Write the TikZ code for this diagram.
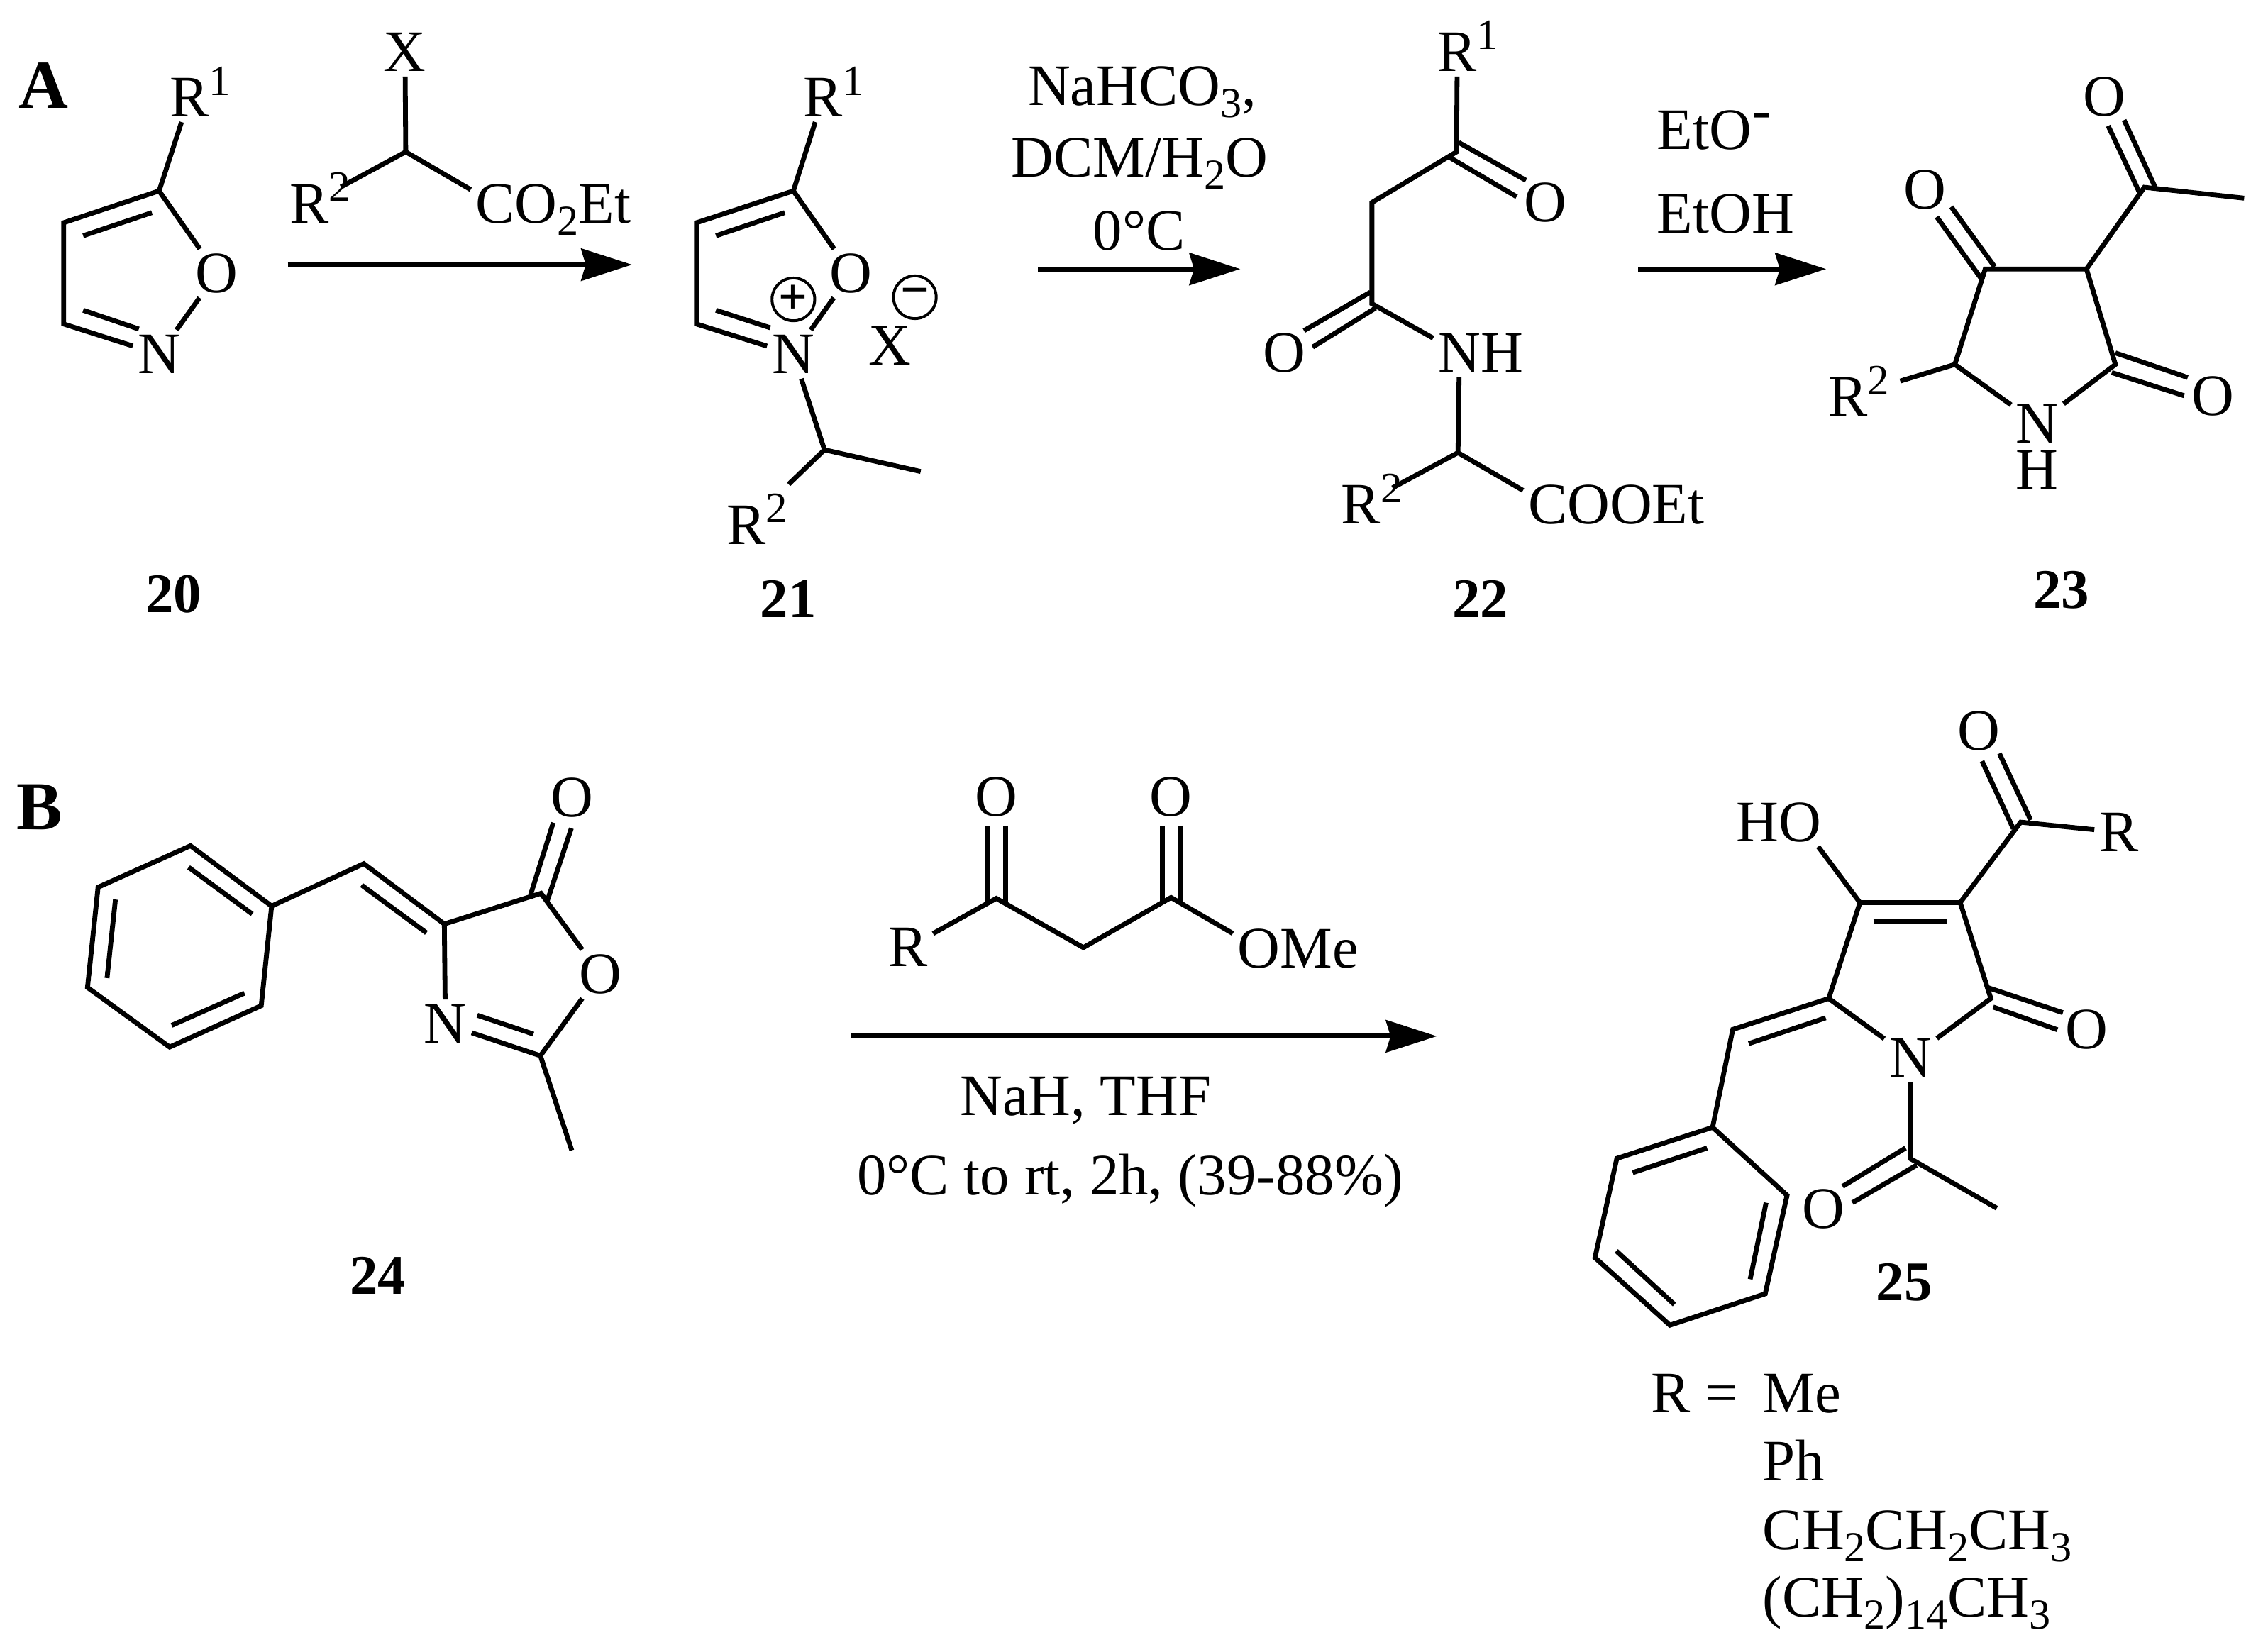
\documentclass[tikz,border=0pt]{standalone}
\usepackage{fontspec}
\setmainfont{Liberation Serif}
\usetikzlibrary{arrows.meta}
\newcommand{\lowr}[1]{\raisebox{-2.4pt}{\fontsize{8.4}{9}\selectfont #1}}
\newcommand{\supr}[1]{\rlap{\smash{\raisebox{4.3pt}{\fontsize{8.5}{9}\selectfont #1}}}}
\newcommand{\tailr}[1]{\rlap{\smash{#1}}}
\tikzset{
    bond/.style={line width=0.95pt, line join=miter},
    rxn/.style={line width=1pt, -{Stealth[length=10pt,width=6.3pt,inset=0.9pt]}},
    atom/.style={inner sep=0.8pt, text height=7.6pt, text depth=0pt, font=\fontsize{11.55}{14}\selectfont},
    txt/.style={anchor=base west, inner sep=0pt, font=\fontsize{11.55}{14}\selectfont},
    nr/.style={inner sep=0pt, font=\fontsize{11}{14}\bfseries\selectfont},
    panel/.style={inner sep=0pt, font=\fontsize{13.5}{16}\bfseries\selectfont},
    charge/.style={circle, draw, line width=0.55pt, inner sep=0pt, minimum size=8.4pt, font=\fontsize{10}{10}\bfseries\selectfont}
}
\begin{document}
\begin{tikzpicture}[x=0.01cm,y=-0.01cm]
    \useasboundingbox (0,0) rectangle (1568,1142);
    \node[panel] (panelA) at (30,59) {A};
    \node[panel] (panelB) at (27.5,558) {B};

    %Forbindelse 20
        \coordinate (c5a) at (110,132);
        \coordinate (c4a) at (44,154);
        \coordinate (c3a) at (44,224);
        \node[atom] (n20) at (110,245) {N};
        \node[atom] (o20) at (150,189) {O};
        \node[atom] (r20) at (131,67.5) {R\supr{1}};
        \draw[bond] (n20)--(c3a)--(c4a)--(c5a)--(o20)--(n20);
        \draw[bond] (c5a)--(r20);
        \draw[bond] (57.5,163)--(105,147);
        \draw[bond] (57.5,214.5)--(96,227.5);
        \node[nr] (nr20) at (120,411) {20};

    %Reagens
        \coordinate (cx) at (280.5,105);
        \node[atom] (xr) at (280,36) {X};
        \node[atom] (r2r) at (214,141) {R\supr{2}};
        \node[atom] (ester) at (342.5,141) {C\tailr{O\lowr{2}Et}};
        \draw[bond] (xr)--(cx);
        \draw[bond,shorten <=1.5pt] (r2r)--(cx);
        \draw[bond] (cx)--(ester);

    %Pil 1
        \coordinate (a1s) at (199,183);
        \coordinate (a1e) at (437,183);
        \draw[rxn] (a1s)--(a1e);

    %Forbindelse 21
        \coordinate (c5b) at (548.5,132);
        \coordinate (c4b) at (481.5,154);
        \coordinate (c3b) at (481.5,224);
        \coordinate (chb) at (570,311);
        \coordinate (meb) at (636.5,326);
        \node[atom] (n21) at (548.5,245) {N};
        \node[atom] (o21) at (588.5,189) {O};
        \node[atom] (r21) at (569,67.5) {R\supr{1}};
        \node[atom] (r221) at (516,363) {R\supr{2}};
        \node[atom] (x21) at (615,239) {X};
        \node[charge] (plus) at (548.5,207) {+};
        \node[charge] (minus) at (632.5,205.5) {−};
        \draw[bond] (n21)--(c3b)--(c4b)--(c5b)--(o21)--(n21);
        \draw[bond] (c5b)--(r21);
        \draw[bond] (n21)--(chb)--(meb);
        \draw[bond,shorten >=4.8pt] (chb)--(r221);
        \draw[bond] (495,163)--(542.5,147);
        \draw[bond] (495,214.5)--(532.5,226.6);
        \node[nr] (nr21) at (545,414) {21};

    %Pil 2
        \coordinate (a2s) at (717.5,186);
        \coordinate (a2e) at (857.5,186);
        \draw[rxn] (a2s)--(a2e);
        \node[txt] (nahco) at (710,72.6) {NaHCO\lowr{3},};
        \node[txt] (dcm) at (698.5,122.5) {DCM/H\lowr{2}O};
        \node[txt] (temp) at (755,173) {0°C};

    %Forbindelse 22
        \coordinate (c1c) at (1007,105);
        \coordinate (c2c) at (948.5,140);
        \coordinate (c3c) at (948.5,210);
        \coordinate (c4c) at (1008,313);
        \node[atom] (r22) at (1007.5,36) {R\supr{1}};
        \node[atom] (o22a) at (1068.5,140) {O};
        \node[atom] (o22b) at (888,244) {O};
        \node[atom] (nh22) at (1009,244) {N\tailr{H}};
        \node[atom] (r222) at (941,349) {R\supr{2}};
        \node[atom] (coo22) at (1070,349) {C\tailr{OOEt}};
        \draw[bond] (r22)--(c1c)--(c2c)--(c3c)--(nh22)--(c4c)--(coo22);
        \draw[bond,shorten >=1.5pt] (c4c)--(r222);
        \draw[bond] (1008.5,98.5)--(1055,124.7);
        \draw[bond] (1002.5,109)--(1048.5,136);
        \draw[bond] (947.5,202)--(901.5,228.6);
        \draw[bond] (951,213)--(907.5,240);
        \node[nr] (nr22) at (1023.5,414) {22};

    %Pil 3
        \coordinate (a3s) at (1132.5,186);
        \coordinate (a3e) at (1262.5,186);
        \draw[rxn] (a3s)--(a3e);
        \node[txt] (eto) at (1145,103) {EtO\raisebox{3.8pt}{-}};
        \node[txt] (etoh) at (1145,161) {EtOH};

    %Forbindelse 23
        \coordinate (c3d) at (1372.5,186);
        \coordinate (c4d) at (1442.5,186);
        \coordinate (c2d) at (1462.5,252);
        \coordinate (c5d) at (1351.5,252);
        \coordinate (acd) at (1482.5,129.5);
        \coordinate (med) at (1551.5,137);
        \node[atom] (nh23) at (1408.5,293) {N};
        \node[atom,inner sep=0pt] (h23) at (1408.5,325) {H};
        \node[atom] (o23a) at (1331,131) {O};
        \node[atom] (o23b) at (1455,67) {O};
        \node[atom] (o23c) at (1530,273.6) {O};
        \node[atom] (r223) at (1277.5,274.5) {R\supr{2}};
        \draw[bond] (nh23)--(c5d)--(c3d)--(c4d)--(c2d)--(nh23);
        \draw[bond,shorten >=5.7pt] (c5d)--(r223);
        \draw[bond] (c4d)--(acd)--(med);
        \draw[bond] (1349,143)--(1379,184.4);
        \draw[bond] (1339,150)--(1370,193);
        \draw[bond] (1468.5,83)--(1490,129.5);
        \draw[bond] (1457.5,87)--(1480,135);
        \draw[bond] (1462.5,244)--(1512.5,261);
        \draw[bond] (1460,257.6)--(1510,273.6);
        \node[nr] (nr23) at (1425,408) {23};

    %Forbindelse 24
        \coordinate (pa) at (131.7,584.8);
        \coordinate (pb) at (67.8,613.5);
        \coordinate (pc) at (60.5,682.8);
        \coordinate (pd) at (117.3,724);
        \coordinate (pe) at (180.6,695.4);
        \coordinate (pf) at (187.8,626.5);
        \coordinate (cg) at (251.5,597.2);
        \coordinate (ch) at (307.2,638.9);
        \coordinate (ck) at (374,617.7);
        \coordinate (cm) at (373.6,730);
        \coordinate (me24) at (395.3,795.4);
        \node[atom] (o24a) at (395.3,551.3) {O};
        \node[atom] (o24b) at (414.9,673.5) {O};
        \node[atom] (n24) at (307.9,708) {N};
        \draw[bond] (pa)--(pb)--(pc)--(pd)--(pe)--(pf)--cycle;
        \draw[bond] (pf)--(cg)--(ch)--(ck)--(o24b)--(cm)--(me24);
        \draw[bond] (ch)--(n24);
        \draw[bond] (n24)--(cm);
        \draw[bond] (130.4,599.7)--(174.4,632);
        \draw[bond] (79.8,622)--(74,676.3);
        \draw[bond] (118.7,709)--(169,686.7);
        \draw[bond] (250,612)--(294.8,645);
        \draw[bond] (382.5,568.8)--(366.7,619.1);
        \draw[bond] (395,572.7)--(378.4,622.8);
        \draw[bond] (330,702)--(368.8,715);
        \node[nr] (nr24) at (261.4,882) {24};

    %Reagens og pil 4
        \coordinate (ke) at (688.8,621.2);
        \coordinate (ch2) at (749,655.2);
        \coordinate (es) at (809.6,620.6);
        \node[atom] (o4a) at (688.8,551) {O};
        \node[atom] (o4b) at (809.6,551) {O};
        \node[atom] (rket) at (628,655) {R};
        \node[atom] (ome) at (870.5,656) {O\tailr{Me}};
        \draw[bond] (rket)--(ke)--(ch2)--(es)--(ome);
        \draw[bond] (682.8,570.8)--(682.8,624.5);
        \draw[bond] (695.2,570.8)--(695.2,624.5);
        \draw[bond] (803.5,570.8)--(803.5,624.5);
        \draw[bond] (815.7,570.8)--(815.7,624.5);
        \coordinate (a4s) at (588.5,716.5);
        \coordinate (a4e) at (993.4,716.5);
        \draw[rxn] (a4s)--(a4e);
        \node[txt] (nah) at (663,771) {NaH, THF};
        \node[txt] (cond) at (592,826) {0°C to rt, 2h, (39-88\%)};

    %Forbindelse 25
        \coordinate (c4e) at (1285.9,624.1);
        \coordinate (c3e) at (1355.2,624.1);
        \coordinate (c2e) at (1376.4,690.4);
        \coordinate (c5e) at (1264.3,690.4);
        \coordinate (ace) at (1397,568.5);
        \coordinate (che) at (1198,711.8);
        \coordinate (qi) at (1184,779.5);
        \coordinate (qj) at (1117.8,801);
        \coordinate (qk) at (1102.7,869.6);
        \coordinate (ql) at (1154.5,916.3);
        \coordinate (qm) at (1220.4,894.6);
        \coordinate (qn) at (1235.5,826.5);
        \coordinate (cof) at (1320.9,801.2);
        \coordinate (mef) at (1380.5,835.4);
        \node[atom] (n25) at (1320.9,731.4) {N};
        \node[atom] (ho) at (1244.4,568.5) {\llap{H}O};
        \node[atom] (o25a) at (1367.9,505.5) {O};
        \node[atom] (o25b) at (1442.6,712) {O};
        \node[atom] (o25c) at (1260.5,836) {O};
        \node[atom] (r25) at (1465,575.4) {R};
        \draw[bond] (n25)--(c5e)--(c4e)--(c3e)--(c2e)--(n25);
        \draw[bond] (c4e)--(ho);
        \draw[bond] (c3e)--(ace)--(r25);
        \draw[bond] (c5e)--(che)--(qi);
        \draw[bond] (qi)--(qj)--(qk)--(ql)--(qm)--(qn)--cycle;
        \draw[bond] (n25)--(cof)--(mef);
        \draw[bond] (1295.1,637.2)--(1345.9,637.2);
        \draw[bond] (1382.3,521)--(1403.9,567);
        \draw[bond] (1370.3,526.3)--(1391.9,573);
        \draw[bond] (1374.7,683)--(1426.2,700.2);
        \draw[bond] (1378,696.3)--(1422.4,712);
        \draw[bond] (1262.2,703.8)--(1209,721.6);
        \draw[bond] (1180.2,793.8)--(1128.8,810.8);
        \draw[bond] (1221,831.6)--(1210,884.5);
        \draw[bond] (1117.5,865)--(1157.6,902);
        \draw[bond] (1317.4,793.8)--(1273.9,820.3);
        \draw[bond] (1325,805.7)--(1280.7,831.6);
        \node[nr] (nr25) at (1316.4,886.5) {25};

    %R-grupper
        \node[txt] (rlist) at (1141,976.6) {R =};
        \node[txt] (rme) at (1218,976.6) {Me};
        \node[txt] (rph) at (1218,1023.6) {Ph};
        \node[txt] (rpr) at (1218,1071.5) {CH\lowr{2}CH\lowr{2}CH\lowr{3}};
        \node[txt] (rpal) at (1218,1118) {(CH\lowr{2})\lowr{14}CH\lowr{3}};
\end{tikzpicture}
\end{document}
